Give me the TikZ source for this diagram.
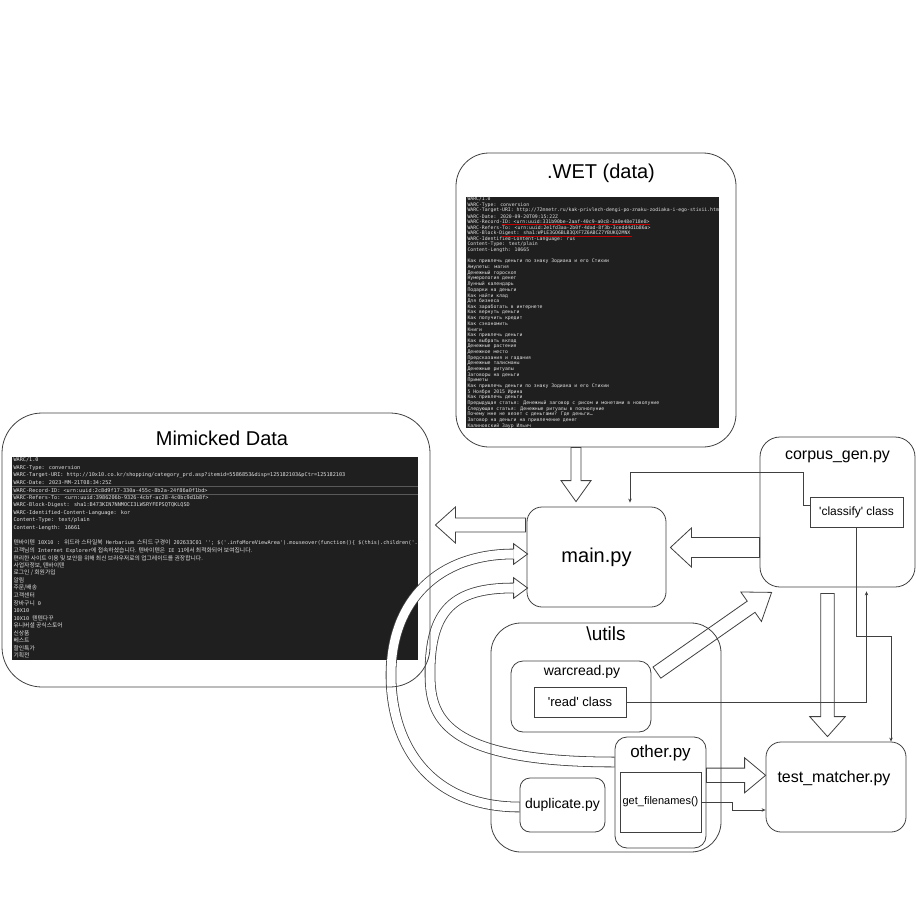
\documentclass[tikz,border=0pt]{standalone}
\usepackage{fontspec}
\setmainfont{Liberation Sans}
\newfontfamily\monofont{DejaVu Sans Mono}
\newfontfamily\krfont{Noto Sans CJK KR}
\usetikzlibrary{arrows.meta, calc, positioning, backgrounds}

\newcommand{\fs}[1]{\fontsize{#1}{#1}\selectfont}
\newcommand{\kr}[1]{{\krfont\fs{5.8}#1}}
\newcommand{\sq}{\textquotesingle}
% hollow block arrow: tail, tip, half body, half head, head length
\newcommand{\fatarrow}[5]{%
  \draw[fatline] let \p1=($(#2)-(#1)$), \n1={atan2(\y1,\x1)}, \n2={veclen(\x1,\y1)} in
    [shift={(#1)}, rotate=\n1] (0,#3) -- (\n2-#5,#3) -- (\n2-#5,#4) -- (\n2,0)
    -- (\n2-#5,-#4) -- (\n2-#5,-#3) -- (0,-#3) -- cycle;}
% head of a curved block arrow: base, tip
\newcommand{\fathead}[2]{%
  \draw[fatline] ($(#1)+(0,-4.9)$) -- ($(#1)+(0,-10.3)$) -- (#2) -- ($(#1)+(0,10.3)$) -- ($(#1)+(0,4.9)$);}

\begin{document}
\begin{tikzpicture}[x=1pt, y=-1pt,
    pane/.style={draw=black!75, line width=0.8pt, inner sep=0pt},
    cls/.style={pane, minimum height=30},
    shot/.style={fill=black!88, inner sep=0pt},
    shottext/.style={anchor=west, inner sep=0pt, text=black!12},
    fatline/.style={draw=black!75, line width=0.8pt, fill=white},
    cbody/.style={draw=black!75, line width=0.8pt, double=white, double distance=9pt},
    link/.style={draw=black!75, line width=0.7pt, -{Stealth[length=4pt, width=3.5pt]}}]

\useasboundingbox (0,0) rectangle (916,899);

% containers
\node[pane, minimum width=280, minimum height=294, rounded corners=33] (wet) at (596,300) {};
\node[font=\fs{20}] (wettitle) at ($(wet.north)+(5,21)$) {.WET (data)};
\node[pane, minimum width=428, minimum height=274, rounded corners=40] (mimic) at (216,550) {};
\node[font=\fs{20}] (mimictitle) at ($(mimic.north)+(6,26)$) {Mimicked Data};
\node[pane, minimum width=139, minimum height=100, rounded corners=15, font=\fs{20}] (main) at (596.5,557) {main.py};
\node[pane, minimum width=155, minimum height=150, rounded corners=20] (corpus) at (837.5,512) {};
\node[font=\fs{16}] (corpustitle) at ($(corpus.north)+(0,20)$) {corpus\_gen.py};
\node[cls, minimum width=93, font=\fs{12}] (classify) at (856.5,512) {\sq classify\sq{} class};
\node[pane, minimum width=230, minimum height=229, rounded corners=30] (utils) at (606,737.5) {};
\node[font=\fs{19}] (utilstitle) at ($(utils.north)+(0,11.5)$) {\textbackslash utils};
\node[pane, minimum width=140, minimum height=71, rounded corners=12] (warc) at (581,696.5) {};
\node[font=\fs{14}] (warctitle) at ($(warc.north)+(1,11)$) {warcread.py};
\node[cls, minimum width=92, font=\fs{13}] (read) at (580,702) {\sq read\sq{} class};
\node[pane, minimum width=91, minimum height=111, rounded corners=12] (other) at (660.5,792.5) {};
\node[font=\fs{17}] (othertitle) at ($(other.north)+(0,16)$) {other.py};
\node[cls, minimum width=81, minimum height=60, font=\fs{11}] (getf) at (660.5,802) {get\_filenames()};
\node[pane, minimum width=85, minimum height=54, rounded corners=10, font=\fs{14}] (dup) at (562.5,805) {duplicate.py};
\node[pane, minimum width=140, minimum height=90, rounded corners=15] (test) at (836,787) {};
\node[font=\fs{16}] (testtitle) at ($(test.north)+(-2,37)$) {test\_matcher.py};

\begin{pgfonlayer}{background}
% screenshots
\node[shot, minimum width=253, minimum height=231] (wetshot) at (592.5,312.5) {};
\begin{scope}
  \clip (wetshot.north west) rectangle (wetshot.south east);
  \foreach \txt [count=\i from 0] in {
    WARC/1.0,
    WARC-Type: conversion,
    WARC-Target-URI: http://72mnetr.ru/kak-privlech-dengi-po-znaku-zodiaka-i-ego-stixii.html,
    WARC-Date: 2020-09-20T09:15:22Z,
    WARC-Record-ID: <urn:uuid:331b90be-2aaf-40c9-a0c8-3a0e48e718e8>,
    WARC-Refers-To: <urn:uuid:2e1fd3aa-2b0f-4dad-8f3b-3cedd4d1b86a>,
    WARC-Block-Digest: sha1:WPLE3GO6BLB3QXF7Z6ABCZ7YBUKQ2MNX,
    WARC-Identified-Content-Language: rus,
    Content-Type: text/plain,
    Content-Length: 10665,
    {},
    Как привлечь деньги по знаку Зодиака и его Стихии,
    Амулеты: магия,
    Денежный гороскоп,
    Нумерология денег,
    Лунный календарь,
    Подарки на деньги,
    Как найти клад,
    Для бизнеса,
    Как заработать в интернете,
    Как вернуть деньги,
    Как получить кредит,
    Как сэкономить,
    Книги,
    Как привлечь деньги,
    Как выбрать вклад,
    Денежные растения,
    Денежное место,
    Предсказания и гадания,
    Денежные талисманы,
    Денежные ритуалы,
    Заговоры на деньги,
    Приметы,
    Как привлечь деньги по знаку Зодиака и его Стихии,
    5 Ноября 2015 Ирина,
    Как привлечь деньги,
    Предыдущая статья: Денежный заговор с рисом и монетами в новолуние,
    Следующая статья: Денежные ритуалы в полнолуние,
    {Почему мне не везет с деньгами? Где деньги\ldots},
    Заговор на деньги на привлечение денег,
    Калиновский Заур Ильич}
    {\node[shottext, font=\monofont\fs{4.8}] (wl\i) at ($(wetshot.north west)+(1.5,2.5+\i*5.66)$) {\txt};}
  \draw[red!75!black, line width=0.5pt] ($(wl4.south west)+(35,0.6)$) -- ++(148,0);
  \draw[red!75!black, line width=0.5pt] ($(wl6.south west)+(35,0.6)$) -- ++(130,0);
\end{scope}

\node[shot, minimum width=406, minimum height=203] (mimicshot) at (215,558.5) {};
\begin{scope}
  \clip (mimicshot.north west) rectangle (mimicshot.south east);
  \draw[black!65] ($(mimicshot.north west)+(0,29)$) -- ($(mimicshot.north east)+(0,29)$);
  \draw[black!65] ($(mimicshot.north west)+(0,37)$) -- ($(mimicshot.north east)+(0,37)$);
  \foreach \txt [count=\i from 0] in {
    WARC/1.0,
    WARC-Type: conversion,
    WARC-Target-URI: http://10x10.co.kr/shopping/category\_prd.asp?itemid=5586853\&disp=125182103\&pCtr=125182103,
    WARC-Date: 2023-MM-21T08:34:25Z,
    WARC-Record-ID: <urn:uuid:2c8d9f17-330a-455c-8b2a-24f86a0f1bd>,
    WARC-Refers-To: <urn:uuid:3986206b-9326-4cbf-ac28-4c0bc9d1b8f>,
    WARC-Block-Digest: sha1:B473KIN7NNMOCI3LWSRYFEPSQTQKLQSD,
    WARC-Identified-Content-Language: kor,
    Content-Type: text/plain,
    Content-Length: 16661,
    {},
    {\kr{텐바이텐} 10X10 : \kr{위드라 스타일북} Herbarium \kr{스티드 구경이} 202633C01 \sq\sq; \$(\sq.infoMoreViewArea\sq).mouseover(function()\{ \$(this).children(\sq.},
    {\kr{고객님의} Internet Explorer\kr{에 접속하셨습니다. 텐바이텐은} IE 11\kr{에서 최적화되어 보여집니다.}},
    {\kr{편리한 사이트 이용 및 보안을 위해 최신 브라우저로의 업그레이드를 권장합니다.}},
    {\kr{사업자정보, 텐바이텐}},
    {\kr{로그인 / 회원가입}},
    {\kr{알림}},
    {\kr{주문/배송}},
    {\kr{고객센터}},
    {\kr{장바구니} 0},
    10X10,
    {10X10 \kr{텐텐다꾸}},
    {\kr{유니버셜 공식스토어}},
    {\kr{신상품}},
    {\kr{베스트}},
    {\kr{할인특가}},
    {\kr{기획전}}}
    {\node[shottext, font=\monofont\fs{5.2}] at ($(mimicshot.north west)+(1.5,3.3+\i*7.52)$) {\txt};}
\end{scope}

% block arrows
\coordinate (a1s) at ($(wet.south)+(-20,0)$);
\coordinate (a1e) at ($(main.north)+(-20.5,-5)$);
\fatarrow{a1s}{a1e}{5}{15}{21}
\coordinate (a2s) at ($(main.west)+(-1,-32)$);
\coordinate (a2e) at ($(mimic.east)+(5,-25)$);
\fatarrow{a2s}{a2e}{7}{18}{20}
\coordinate (a3s) at ($(corpus.west)+(0,35.5)$);
\coordinate (a3e) at ($(main.east)+(4,-9.5)$);
\fatarrow{a3s}{a3e}{10}{19.5}{21}
\coordinate (a4s) at ($(warc.north east)+(5.5,12)$);
\coordinate (a4e) at ($(corpus.south west)+(12,5)$);
\fatarrow{a4s}{a4e}{6.8}{18}{25}
\coordinate (a5s) at ($(corpus.south)+(-10,6)$);
\coordinate (a5e) at ($(test.north)+(-8.5,-5)$);
\fatarrow{a5s}{a5e}{6.8}{17.8}{20}
\coordinate (a6s) at ($(other.east)+(0,-17.2)$);
\coordinate (a6e) at ($(test.west)+(0,-11.7)$);
\fatarrow{a6s}{a6e}{7.2}{17.5}{21}

% curved block arrows back into main.py
\coordinate (c1s) at ($(dup.west)+(0,2)$);
\coordinate (c1m) at (391,675);
\coordinate (c1b) at ($(main.west)+(-13,-3)$);
\coordinate (c1e) at ($(main.west)+(1,-3)$);
\draw[cbody] (c1s) .. controls +(-90,0) and +(0,70) .. (c1m) .. controls +(0,-75) and +(-75,0) .. (c1b);
\fathead{c1b}{c1e}
\coordinate (c2s) at ($(other.west)+(0,-30.5)$);
\coordinate (c2m) at (430,673);
\coordinate (c2b) at ($(main.west)+(-13,31)$);
\coordinate (c2e) at ($(main.west)+(1,31)$);
\draw[cbody] (c2s) .. controls +(-175,0) and +(0,42) .. (c2m) .. controls +(0,-63) and +(-60,0) .. (c2b);
\fathead{c2b}{c2e}
\end{pgfonlayer}

% thin connectors
\draw[link] ($(classify.west)+(0,-7)$) -- ++(-6,0) -- ++(0,-33) -| ($(main.north)+(33.5,-4)$);
\draw[link] (classify.south) -- ++(0,109) -| ($(test.north)+(55,0)$);
\draw[link] (read.east) -| ($(corpus.south)+(29,4)$);
\draw[link] (getf.east) -- ++(31,0) |- ($(test.west)+(0,23)$);
\end{tikzpicture}
\end{document}
